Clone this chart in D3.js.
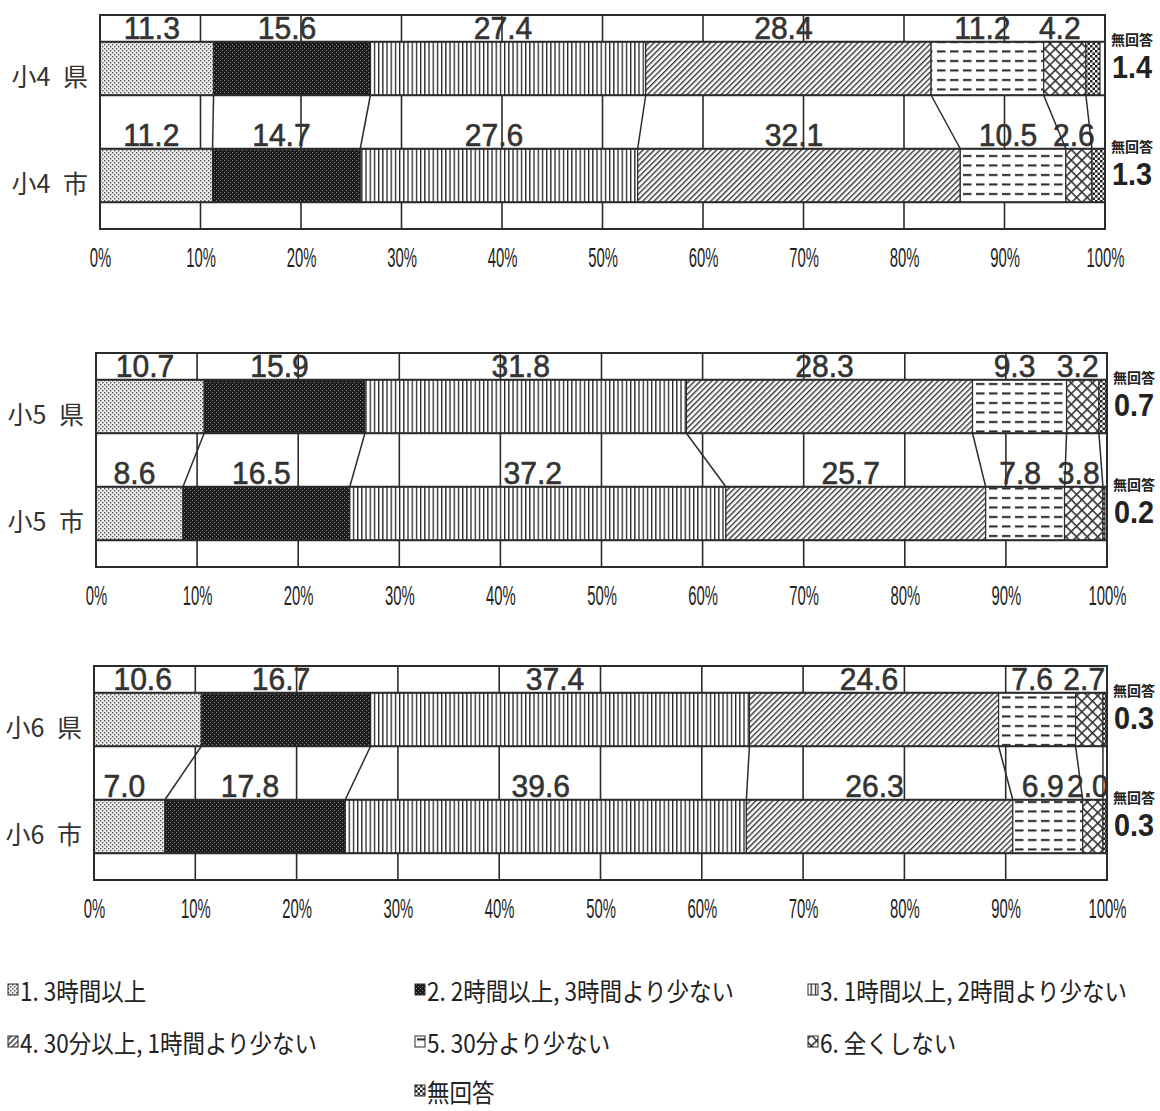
<!DOCTYPE html>
<html><head><meta charset="utf-8">
<script src="https://cdn.jsdelivr.net/npm/d3@7"></script>
<style>body{margin:0;background:#fff}</style>
</head><body>
<svg id="c" width="1160" height="1111"></svg>
<script>
// ---------- data ----------
const grades = ["小4", "小5", "小6"];
const regions = ["県", "市"];
const seriesNames = [
  "1. 3時間以上",
  "2. 2時間以上, 3時間より少ない",
  "3. 1時間以上, 2時間より少ない",
  "4. 30分以上, 1時間より少ない",
  "5. 30分より少ない",
  "6. 全くしない",
  "無回答"
];
const valuesKen = [
  [11.3, 15.6, 27.4, 28.4, 11.2, 4.2, 1.4],
  [10.7, 15.9, 31.8, 28.3, 9.3, 3.2, 0.7],
  [10.6, 16.7, 37.4, 24.6, 7.6, 2.7, 0.3]
];
const valuesShi = [
  [11.2, 14.7, 27.6, 32.1, 10.5, 2.6, 1.3],
  [8.6, 16.5, 37.2, 25.7, 7.8, 3.8, 0.2],
  [7.0, 17.8, 39.6, 26.3, 6.9, 2.0, 0.3]
];
const tickValues = [0, 10, 20, 30, 40, 50, 60, 70, 80, 90, 100];
const tickLabels = ["0%", "10%", "20%", "30%", "40%", "50%", "60%", "70%", "80%", "90%", "100%"];
const noAnswerLabel = "無回答";

// ---------- layout ----------
const panels = [
  {top: 15, x0: 100, x1: 1105},
  {top: 353, x0: 96, x1: 1107},
  {top: 666, x0: 94, x1: 1107}
];
const PH = 214;
const INK = "#2b2b2b";
const NUM_FONT = "'Liberation Sans', Arial, sans-serif";
const CJK_FONT = "'Noto Sans CJK JP', 'Noto Sans', sans-serif";

const svg = d3.select("#c");
const defs = svg.append("defs");

function fit(sel, k) {
  sel.each(function () {
    const L = this.getComputedTextLength();
    this.setAttribute("textLength", L * k);
    this.setAttribute("lengthAdjust", "spacingAndGlyphs");
  });
}

// ---------- patterns ----------
function pat(id, w, h, transform) {
  const p = defs.append("pattern").attr("id", id).attr("patternUnits", "userSpaceOnUse")
    .attr("width", w).attr("height", h);
  if (transform) p.attr("patternTransform", transform);
  return p;
}
// 1 light stipple
let p = pat("p0", 4, 4);
p.append("rect").attr("width", 4).attr("height", 4).attr("fill", "#ececec");
p.append("rect").attr("x", 0).attr("y", 0).attr("width", 1.4).attr("height", 1.4).attr("fill", "#555");
p.append("rect").attr("x", 2).attr("y", 2).attr("width", 1.4).attr("height", 1.4).attr("fill", "#555");
// 2 dark stipple
p = pat("p1", 4, 4);
p.append("rect").attr("width", 4).attr("height", 4).attr("fill", "#1c1c1c");
p.append("rect").attr("x", 0).attr("y", 0).attr("width", 1).attr("height", 1).attr("fill", "#8a8a8a");
p.append("rect").attr("x", 2).attr("y", 2).attr("width", 1).attr("height", 1).attr("fill", "#8a8a8a");
// 3 vertical lines
p = pat("p2", 4.2, 4);
p.append("rect").attr("width", 4.2).attr("height", 4).attr("fill", "#fff");
p.append("rect").attr("x", 0).attr("width", 1.3).attr("height", 4).attr("fill", "#222");
// 4 diagonal "/"
p = pat("p3", 4, 4, "rotate(45)");
p.append("rect").attr("width", 4).attr("height", 4).attr("fill", "#fff");
p.append("rect").attr("x", 0).attr("width", 1.4).attr("height", 4).attr("fill", "#333");
// 5 dashed horizontal
p = pat("p4", 13, 9.5);
p.append("rect").attr("width", 13).attr("height", 9.5).attr("fill", "#fff");
p.append("rect").attr("x", 1).attr("y", 3).attr("width", 8.5).attr("height", 2).attr("fill", "#222");
// 6 crosshatch
p = pat("p5", 7.5, 7.5, "rotate(45)");
p.append("rect").attr("width", 7.5).attr("height", 7.5).attr("fill", "#fff");
p.append("rect").attr("x", 0).attr("width", 1.6).attr("height", 7.5).attr("fill", "#333");
p.append("rect").attr("y", 0).attr("width", 7.5).attr("height", 1.6).attr("fill", "#333");
// 7 checker
p = pat("p6", 5, 5);
p.append("rect").attr("width", 5).attr("height", 5).attr("fill", "#fff");
p.append("rect").attr("x", 0).attr("y", 0).attr("width", 2.5).attr("height", 2.5).attr("fill", "#222");
p.append("rect").attr("x", 2.5).attr("y", 2.5).attr("width", 2.5).attr("height", 2.5).attr("fill", "#222");

const fmt = d3.format(".1f");

// ---------- panels ----------
panels.forEach((pl, gi) => {
  const g = svg.append("g");
  const x = d3.scaleLinear([0, 100], [pl.x0, pl.x1]);
  const y = d3.scaleBand(regions, [pl.top, pl.top + PH]).paddingInner(0.5).paddingOuter(0.25);
  const bw = y.bandwidth();
  const rows = [valuesKen[gi], valuesShi[gi]];

  // grid lines
  g.append("g").selectAll("line").data(tickValues.slice(1, -1)).join("line")
    .attr("x1", d => x(d)).attr("x2", d => x(d))
    .attr("y1", pl.top).attr("y2", pl.top + PH)
    .attr("stroke", INK).attr("stroke-width", 1.6);

  // bars
  rows.forEach((vals, ri) => {
    const cum = [0, ...d3.cumsum(vals)];
    const segs = vals.map((v, i) => ({v, i, a: cum[i], b: cum[i + 1]}));
    const yy = y(regions[ri]);
    g.append("g").selectAll("rect").data(segs).join("rect")
      .attr("x", d => x(d.a)).attr("width", d => x(d.b) - x(d.a))
      .attr("y", yy).attr("height", bw)
      .attr("fill", d => `url(#p${d.i})`)
      .attr("stroke", INK).attr("stroke-width", 1.2);

    // horizontal row lines across frame
    g.append("g").selectAll("line").data([yy, yy + bw]).join("line")
      .attr("x1", x(0)).attr("x2", x(100)).attr("y1", d => d).attr("y2", d => d)
      .attr("stroke", INK).attr("stroke-width", 1.8);

    // value labels above segments
    g.append("g").selectAll("text").data(segs.slice(0, 6)).join("text")
      .attr("x", d => x((d.a + d.b) / 2) - 5).attr("y", yy - 3)
      .attr("text-anchor", "middle")
      .attr("font-family", NUM_FONT).attr("font-size", 31)
      .attr("fill", "#333").attr("stroke", "#333").attr("stroke-width", 0.6)
      .text(d => fmt(d.v))
      .call(fit, 0.97);

    // no-answer label at right
    const na = segs[6];
    g.append("text").attr("x", x(100) + 27).attr("y", yy + 3)
      .attr("text-anchor", "middle").attr("font-family", CJK_FONT)
      .attr("font-weight", 700).attr("font-size", 14).attr("fill", "#222")
      .text(noAnswerLabel);
    g.append("text").attr("x", x(100) + 27).attr("y", yy + 36)
      .attr("text-anchor", "middle").attr("font-family", NUM_FONT)
      .attr("font-weight", 700).attr("font-size", 32).attr("fill", "#222")
      .text(fmt(na.v))
      .call(fit, 0.9);

    // category label
    g.append("text").attr("x", x(0) - 12).attr("y", yy + bw / 2 + 17)
      .attr("text-anchor", "end").attr("font-family", CJK_FONT)
      .attr("font-size", 25).attr("fill", "#333")
      .text(grades[gi] + "\u2002" + regions[ri]);
  });

  // connectors
  const cK = d3.cumsum(rows[0]), cS = d3.cumsum(rows[1]);
  const yK = y(regions[0]) + bw, yS = y(regions[1]);
  g.append("g").selectAll("line").data(d3.range(6)).join("line")
    .attr("x1", i => x(cK[i])).attr("y1", yK)
    .attr("x2", i => x(cS[i])).attr("y2", yS)
    .attr("stroke", INK).attr("stroke-width", 1.5);

  // frame
  g.append("rect").attr("x", x(0)).attr("y", pl.top).attr("width", x(100) - x(0)).attr("height", PH)
    .attr("fill", "none").attr("stroke", INK).attr("stroke-width", 2);

  // axis
  const ax = g.append("g").attr("transform", `translate(0,${pl.top + PH + 38})`)
    .call(d3.axisBottom(x).tickValues(tickValues).tickFormat((d, i) => tickLabels[i]).tickSize(0).tickPadding(0));
  ax.select(".domain").remove();
  ax.selectAll("text").attr("dy", 0).attr("y", 0)
    .attr("font-family", NUM_FONT).attr("font-size", 27).attr("fill", "#222")
    .call(fit, 0.55);
});

// ---------- legend ----------
const legCols = [8, 415, 808];
const legRows = [1001, 1053, 1102];
const leg = svg.append("g");
seriesNames.forEach((name, i) => {
  const col = i < 6 ? i % 3 : 1;
  const row = Math.floor(i / 3);
  const lx = legCols[col], ly = legRows[row];
  leg.append("rect").attr("x", lx).attr("y", ly - 17).attr("width", 10).attr("height", 11)
    .attr("fill", `url(#p${i})`).attr("stroke", INK).attr("stroke-width", 1);
  leg.append("text").attr("x", lx + 12).attr("y", ly)
    .attr("font-family", CJK_FONT).attr("font-size", 25).attr("fill", "#222")
    .text(name).call(fit, 0.9);
});
</script>
</body></html>
